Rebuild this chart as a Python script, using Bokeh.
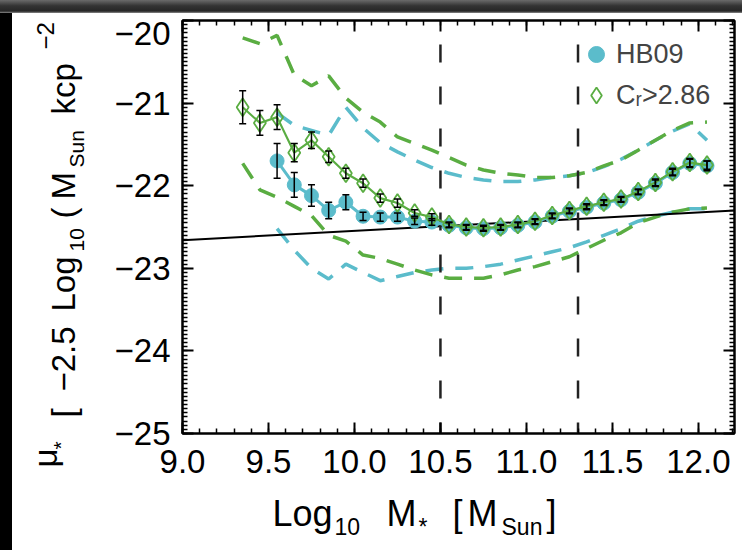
import numpy as np
from math import pi
from bokeh.plotting import figure
from bokeh.core.properties import value
from bokeh.models import (Range1d, LinearAxis, FixedTicker, Legend, LegendItem,
                          Whisker, ColumnDataSource, TeeHead, Div)
from bokeh.layouts import column, row
from bokeh.embed import file_html
from bokeh.resources import INLINE

# ---------------- data ----------------
hb_x = [9.55, 9.65, 9.75, 9.85, 9.95, 10.05, 10.15, 10.25, 10.35, 10.45, 10.55, 10.65, 10.75,
        10.85, 10.95, 11.05, 11.15, 11.25, 11.35, 11.45, 11.55, 11.65, 11.75, 11.85, 11.95, 12.05]
hb_y = [-21.70, -21.99, -22.12, -22.30, -22.20, -22.37, -22.38, -22.38, -22.43, -22.44, -22.48,
        -22.51, -22.52, -22.51, -22.48, -22.44, -22.37, -22.31, -22.26, -22.21, -22.17, -22.08,
        -21.97, -21.84, -21.73, -21.76]
hb_err = [0.21, 0.15, 0.13, 0.10, 0.09, 0.05, 0.05, 0.05, 0.04, 0.04, 0.03, 0.03, 0.03, 0.03,
          0.03, 0.03, 0.03, 0.03, 0.03, 0.03, 0.03, 0.03, 0.04, 0.04, 0.05, 0.06]
hb_hi = [-21.12, -21.27, -21.33, -21.39, -21.05, -21.30, -21.48, -21.59, -21.69, -21.78, -21.85,
         -21.90, -21.93, -21.95, -21.95, -21.93, -21.90, -21.88, -21.84, -21.77, -21.68, -21.57,
         -21.45, -21.34, -21.25, -21.45]
hb_lo = [-22.52, -22.78, -23.00, -23.13, -22.95, -23.05, -23.15, -23.10, -23.05, -23.02, -23.00,
         -23.00, -22.98, -22.95, -22.90, -22.85, -22.80, -22.75, -22.68, -22.60, -22.52, -22.43,
         -22.37, -22.32, -22.28, -22.28]

cr_x = [9.35, 9.45] + hb_x
cr_y = [-21.05, -21.24, -21.17, -21.60, -21.45, -21.65, -21.85, -21.97, -22.15, -22.21, -22.33,
        -22.38, -22.47, -22.50, -22.51, -22.50, -22.47, -22.43, -22.36, -22.30, -22.25, -22.20,
        -22.16, -22.07, -21.96, -21.83, -21.72, -21.75]
cr_err = [0.20, 0.15, 0.15, 0.11, 0.10, 0.07, 0.06, 0.05, 0.05, 0.05, 0.04, 0.04, 0.03, 0.03,
          0.03, 0.03, 0.03, 0.03, 0.03, 0.03, 0.03, 0.03, 0.03, 0.03, 0.04, 0.04, 0.05, 0.05]
cr_hi = [-20.21, -20.28, -20.18, -20.66, -20.79, -20.67, -20.94, -21.11, -21.23, -21.41, -21.49,
         -21.57, -21.66, -21.75, -21.81, -21.85, -21.87, -21.90, -21.90, -21.88, -21.84, -21.76,
         -21.69, -21.57, -21.45, -21.33, -21.24, -21.23]
cr_lo = [-21.73, -22.05, -22.14, -22.25, -22.36, -22.60, -22.67, -22.84, -22.88, -22.95, -23.02,
         -23.08, -23.12, -23.12, -23.12, -23.08, -23.02, -22.98, -22.92, -22.86, -22.76, -22.66,
         -22.57, -22.45, -22.38, -22.32, -22.28, -22.27]

ref_x = [9.0, 12.21]
ref_y = [-22.66, -22.30]
vline_x = [10.5, 11.3]

x_ticks = [9.0, 9.5, 10.0, 10.5, 11.0, 11.5, 12.0]
x_tick_labels = ["9.0", "9.5", "10.0", "10.5", "11.0", "11.5", "12.0"]
y_ticks = [-25.0, -24.0, -23.0, -22.0, -21.0, -20.0]
y_tick_labels = ["\u221225", "\u221224", "\u221223", "\u221222", "\u221221", "\n\u221220"]
legend_labels = ["HB09", "C\u1d63>2.86"]

# axis titles, split into normal / subscript / superscript pieces
xtitle_parts = ["Log", "10", "M", "*", "[", "M", "Sun", "]"]
ytitle_parts = ["\u03bc", "*", "[", "\u22122.5", "Log", "10", "(", "M", "Sun", "kcp", "\u22122"]

# ---------------- style / geometry (page pixels) ----------------
FONT = "Liberation Sans"
CYAN = "#5bbccb"
GREEN = "#5aad42"
PAGE_W, PAGE_H = 742, 550
BAND_L, BAND_T = 12, 13
LEFT_W = 95                      # y-title strip: page x 12..107
MAIN_X0 = BAND_L + LEFT_W        # 107
MAIN_H = 488                     # main figure: page y 0..488
FRAME_L, FRAME_R, FRAME_T, FRAME_B = 182, 734, 20, 433

p = figure(width=PAGE_W - MAIN_X0, height=MAIN_H, x_range=Range1d(9.0, 12.21),
           y_range=Range1d(-25, -20), output_backend="svg", toolbar_location=None,
           min_border_left=FRAME_L - MAIN_X0, min_border_right=PAGE_W - FRAME_R,
           min_border_top=FRAME_T, min_border_bottom=MAIN_H - FRAME_B,
           x_axis_type=None, y_axis_type=None)
p.grid.visible = False
p.outline_line_color = "black"
p.outline_line_width = 2
p.border_fill_color = "white"

x_minor = np.round(np.arange(9.0, 12.25, 0.1), 2).tolist()
y_minor = np.round(np.arange(-25.0, -19.99, 0.05), 2).tolist()


def make_axis(ticks, minor, overrides=None):
    ax = LinearAxis(ticker=FixedTicker(ticks=ticks, minor_ticks=minor))
    ax.axis_line_width = 2
    ax.major_tick_in, ax.major_tick_out = 11, 0
    ax.minor_tick_in, ax.minor_tick_out = 5, 0
    ax.major_tick_line_width = 2
    ax.minor_tick_line_width = 1.5
    if overrides is None:
        ax.major_label_text_color = None
        ax.major_label_standoff = 0
    else:
        ax.major_label_overrides = overrides
        ax.major_label_text_font = FONT
        ax.major_label_text_color = "black"
        ax.major_label_text_font_size = "33px"
    return ax


xb = make_axis(x_ticks, x_minor, dict(zip(x_ticks, x_tick_labels)))
xb.major_label_standoff = 16
yl = make_axis(y_ticks, y_minor, dict(zip(y_ticks, y_tick_labels)))
yl.major_label_standoff = 12
yl.major_label_text_line_height = 0.4
p.add_layout(xb, "below")
p.add_layout(yl, "left")
p.add_layout(make_axis(x_ticks, x_minor), "above")
p.add_layout(make_axis(y_ticks, y_minor), "right")

# envelopes
for xs, ys, c in ((hb_x, hb_hi, CYAN), (hb_x, hb_lo, CYAN), (cr_x, cr_hi, GREEN), (cr_x, cr_lo, GREEN)):
    p.line(xs, ys, line_color=c, line_width=3.5, line_dash="18 12")

# reference relation and mass limits
p.line(ref_x, ref_y, line_color="black", line_width=2)
p.segment(x0=vline_x, y0=[-20] * len(vline_x), x1=vline_x, y1=[-25] * len(vline_x),
          line_color="#222222", line_width=2.5, line_dash="18 24", line_dash_offset=18)

# HB09
p.line(hb_x, hb_y, line_color=CYAN, line_width=3)
hb_pts = p.scatter(hb_x, hb_y, marker="circle", size=14, fill_color=CYAN, line_color=CYAN)
# Cr > 2.86
p.line(cr_x, cr_y, line_color=GREEN, line_width=2.2)
cr_pts = p.scatter(cr_x, cr_y, marker="diamond", size=18, fill_color=None,
                   line_color=GREEN, line_width=1.8)

for xs, ys, es in ((hb_x, hb_y, hb_err), (cr_x, cr_y, cr_err)):
    ya, ea = np.array(ys), np.array(es)
    src = ColumnDataSource(dict(x=xs, lo=(ya - ea).tolist(), hi=(ya + ea).tolist()))
    p.add_layout(Whisker(source=src, base="x", lower="lo", upper="hi", dimension="height",
                         line_color="black", line_width=1.5, level="annotation",
                         upper_head=TeeHead(size=7, line_color="black", line_width=1.5),
                         lower_head=TeeHead(size=7, line_color="black", line_width=1.5)))

legend = Legend(items=[LegendItem(label=legend_labels[0], renderers=[hb_pts]),
                       LegendItem(label=legend_labels[1], renderers=[cr_pts])],
                location=(394, 318), glyph_width=40, glyph_height=40, label_standoff=0,
                spacing=1, padding=0, margin=0, border_line_color=None,
                background_fill_alpha=0, label_text_font=FONT, label_text_font_size="27px")
p.add_layout(legend)


def text_strip(width, height, x0, y0):
    """A bare figure whose data coordinates are page pixels (y negated)."""
    f = figure(width=width, height=height, x_range=Range1d(x0, x0 + width),
               y_range=Range1d(-(y0 + height), -y0), output_backend="svg",
               toolbar_location=None, min_border=0, x_axis_type=None, y_axis_type=None)
    f.grid.visible = False
    f.outline_line_color = None
    f.border_fill_color = "white"
    return f


# y-axis title  mu* [-2.5 Log10 (MSun kcp^-2
yt = text_strip(LEFT_W, MAIN_H, BAND_L, 0)
ty_start = [467, 449, 417, 391, 311, 251, 218, 199, 167, 114, 49]
tx_base = [45, 60, 63, 63, 63, 76, 63, 63, 76, 63, 45]
tsz = ["33px", "21px", "33px", "33px", "33px", "21px", "33px", "33px", "21px", "33px", "24px"]
yt.text(x="x", y="y", text="t", text_font_size="s", source=ColumnDataSource(
    dict(x=tx_base, y=[-v for v in ty_start], t=ytitle_parts, s=tsz)),
    angle=pi / 2, text_font=value(FONT), text_color="black", text_align="left",
    text_baseline="alphabetic")

# x-axis title  Log10 M* [MSun]
xt = text_strip(PAGE_W - BAND_L, PAGE_H - MAIN_H, BAND_L, MAIN_H)
xs_pos = [272, 334, 386, 418, 452, 467, 501, 546]
ys_pos = [513, 526, 513, 526, 513, 513, 526, 513]
sz = ["36px", "23px", "36px", "23px", "36px", "36px", "23px", "36px"]
xt.text(x="x", y="y", text="t", text_font_size="s", source=ColumnDataSource(
    dict(x=xs_pos, y=[-v for v in ys_pos], t=xtitle_parts, s=sz)),
    text_font=value(FONT), text_color="black", text_align="left", text_baseline="alphabetic")

top = Div(width=PAGE_W, height=BAND_T, margin=0,
          styles={"position": "absolute", "top": "0px", "left": "0px", "z-index": "10",
                  "background": "linear-gradient(#6a6a6a, #333333 45%, #262626 85%, #8a8a8a)"})
left1 = Div(width=BAND_L, height=MAIN_H, margin=0, styles={"background-color": "#000000"})
left2 = Div(width=BAND_L, height=PAGE_H - MAIN_H, margin=0, styles={"background-color": "#000000"})
# the title strip sits in its own column so that its frame is not aligned with the chart's
layout = column(top, row(left1, column(yt, spacing=0), p, spacing=0),
                row(left2, xt, spacing=0), spacing=0)

open("out.html", "w").write(file_html(layout, INLINE))
